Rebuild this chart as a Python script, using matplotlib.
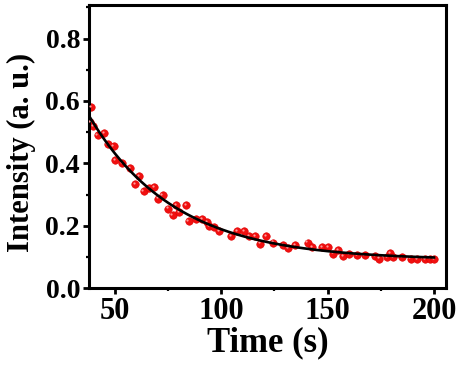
import numpy as np
import matplotlib.pyplot as plt
import matplotlib.transforms as mtransforms
from matplotlib.ticker import MultipleLocator

time_s = [38.9, 38.6, 39.9, 42.0, 45.2, 46.7, 49.5, 50.3, 53.5, 57.4, 59.7, 61.3,
          63.6, 66.3, 68.6, 70.6, 72.5, 75.3, 77.2, 78.8, 80.4, 83.5, 84.7, 88.3,
          91.0, 93.4, 94.2, 96.8, 99.1, 104.6, 107.7, 110.8, 113.3, 116.0, 118.3,
          121.2, 124.6, 129.0, 131.6, 134.7, 140.6, 142.6, 147.3, 150.1, 152.8,
          155.1, 157.2, 160.3, 163.8, 167.4, 172.4, 174.4, 177.9, 179.4, 180.9,
          184.8, 189.0, 191.9, 195.8, 198.1, 200.0]
intensity = [0.579, 0.533, 0.519, 0.490, 0.497, 0.461, 0.455, 0.410, 0.402, 0.384,
             0.335, 0.360, 0.312, 0.320, 0.325, 0.287, 0.298, 0.255, 0.234, 0.266,
             0.243, 0.266, 0.216, 0.221, 0.221, 0.212, 0.198, 0.196, 0.184, 0.167,
             0.184, 0.184, 0.167, 0.166, 0.143, 0.166, 0.146, 0.138, 0.128, 0.138,
             0.146, 0.131, 0.133, 0.131, 0.111, 0.122, 0.103, 0.110, 0.107, 0.107,
             0.103, 0.095, 0.100, 0.113, 0.099, 0.099, 0.095, 0.092, 0.092, 0.095,
             0.093]

t = np.array(time_s)
y = np.array(intensity)

# single exponential fit: y = y0 + A*exp(-(t-t0)/tau), tau by grid search
t0 = t.min()
best = None
for tau in np.linspace(10, 120, 1101):
    M = np.column_stack([np.ones_like(t), np.exp(-(t - t0) / tau)])
    coef, res, *_ = np.linalg.lstsq(M, y, rcond=None)
    err = np.sum((M @ coef - y) ** 2)
    if best is None or err < best[0]:
        best = (err, tau, coef)
_, tau, (y0, A) = best
tf = np.linspace(38, 200, 400)
yf = y0 + A * np.exp(-(tf - t0) / tau)

plt.rcParams['font.family'] = 'Liberation Serif'
plt.rcParams['font.weight'] = 'bold'

fig = plt.figure(figsize=(4.64, 3.68), dpi=100)
ax = fig.add_axes([0.192, 0.217, 0.769, 0.769])

ax.plot(t, y, 'o', color='#f01010', mec='#e00000', ms=5.4, mew=0.4, zorder=2)
hl = mtransforms.offset_copy(ax.transData, fig=fig, x=-0.8, y=0.8, units='points')
ax.plot(t, y, 'o', color='#ff9a9a', mec='none', ms=1.6, zorder=3, transform=hl)
ax.plot(tf, yf, color='black', lw=1.9, zorder=4)

ax.set_xlim(38, 205.6)
ax.set_ylim(0, 0.907)
ax.xaxis.set_major_locator(MultipleLocator(50))
ax.xaxis.set_minor_locator(MultipleLocator(25))
ax.yaxis.set_major_locator(MultipleLocator(0.2))
ax.yaxis.set_minor_locator(MultipleLocator(0.1))
ax.yaxis.set_major_formatter(plt.FormatStrFormatter('%.1f'))

for s in ax.spines.values():
    s.set_linewidth(2.2)
ax.tick_params(which='major', direction='out', length=4.5, width=2, pad=2)
ax.tick_params(which='minor', direction='out', length=2.5, width=1.6)
ax.tick_params(axis='x', labelsize=22)
ax.tick_params(axis='y', labelsize=20)
for lab in ax.get_xticklabels() + ax.get_yticklabels():
    lab.set_fontweight('bold')

ax.set_xlabel('Time (s)', fontsize=25, fontweight='bold', labelpad=0)
ax.set_ylabel('Intensity (a. u.)', fontsize=22, fontweight='bold')
ax.yaxis.set_label_coords(-0.15, 0.48)

fig.savefig('out.png', dpi=100)
